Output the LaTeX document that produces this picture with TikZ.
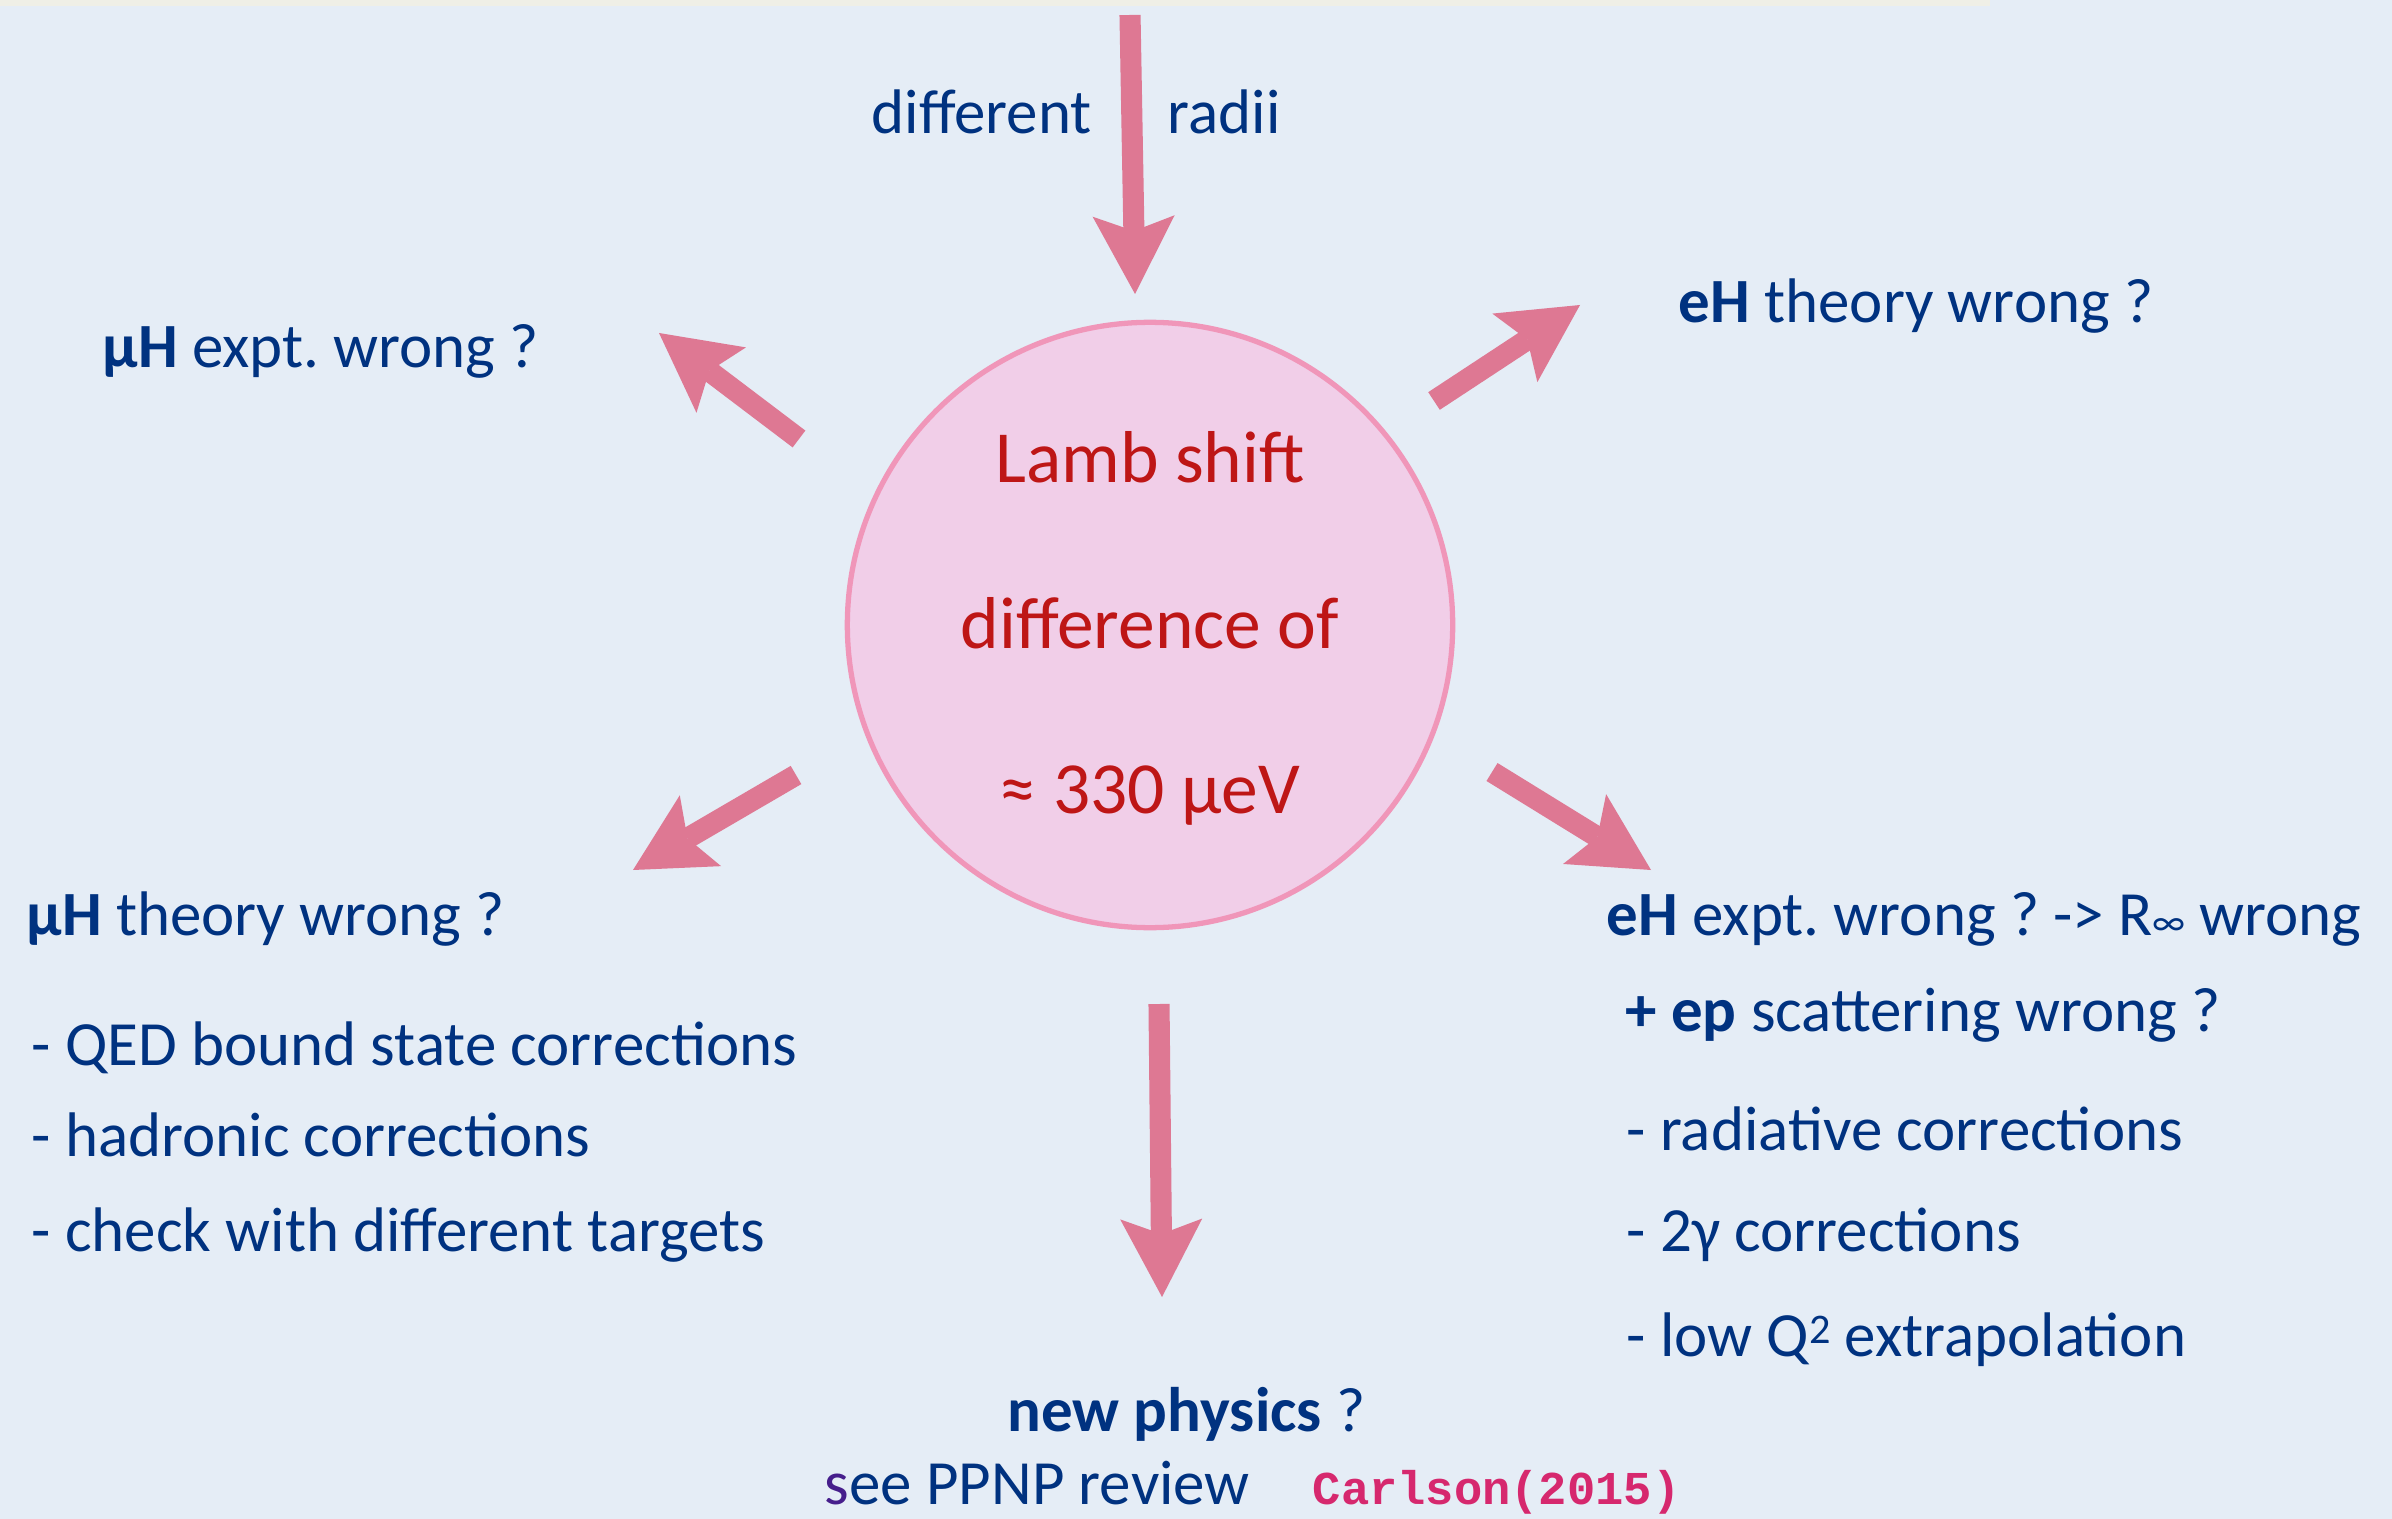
\documentclass[tikz,border=0pt]{standalone}
\usepackage{fontspec}
\setmainfont{Carlito}
\setmonofont{Liberation Mono}
\usetikzlibrary{arrows.meta}
\frenchspacing
\definecolor{bg}{RGB}{229,237,246}
\definecolor{cream}{RGB}{239,239,230}
\definecolor{navy}{RGB}{0,50,128}
\definecolor{redtxt}{RGB}{190,22,22}
\definecolor{circf}{RGB}{241,206,232}
\definecolor{circb}{RGB}{240,150,185}
\definecolor{arrowc}{RGB}{222,120,147}
\definecolor{carl}{RGB}{214,40,110}
\definecolor{purp}{RGB}{70,30,140}
\begin{document}
\begin{tikzpicture}[x=0.01cm,y=-0.01cm,
  txt/.style={anchor=base west, inner sep=0, text=navy, font=\fontsize{17.9}{21}\selectfont},
  redt/.style={anchor=base, inner sep=0, text=redtxt, font=\fontsize{20.9}{24}\selectfont},
  pinkarrow/.style={draw=arrowc, line width=6pt, -{Stealth[length=7.8mm,width=8.2mm,inset=1.5mm,line width=0pt]}},
]
\fill[bg] (0,0) rectangle (2392,1519);
\fill[cream] (0,0) rectangle (1990,6);
\useasboundingbox (0,0) rectangle (2392,1519);

% central circle
\node (c) [circle, draw=circb, fill=circf, line width=1.5pt, minimum size=6.05cm, inner sep=0] at (1150,625) {};
\node (l1) [redt] at (1150,482) {Lamb shift};
\node (l2) [redt] at (1150,648) {difference of};
\node (l3) [redt] at (1150,813) {≈ 330 μeV};

% arrow end points
\coordinate (tT) at (1130,15);   \coordinate (hT) at (1135,294);
\coordinate (tUL) at (799,439);  \coordinate (hUL) at (659,333);
\coordinate (tUR) at (1434,401); \coordinate (hUR) at (1580,305);
\coordinate (tLL) at (796,775);  \coordinate (hLL) at (633,870);
\coordinate (tLR) at (1492,772); \coordinate (hLR) at (1651,870);
\coordinate (tB) at (1159,1004); \coordinate (hB) at (1162,1297);

\draw[pinkarrow] (tT) -- (hT);
\draw[pinkarrow] (tUL) -- (hUL);
\draw[pinkarrow] (tUR) -- (hUR);
\draw[pinkarrow] (tLL) -- (hLL);
\draw[pinkarrow] (tLR) -- (hLR);
\draw[pinkarrow] (tB) -- (hB);

% texts
\node (dif) [txt] at (871,134) {different};
\node (rad) [txt] at (1167,134) {radii};
\node (mex) [txt] at (102,368) {\textbf{μH} expt. wrong ?};
\node (eth) [txt] at (1678,323) {\textbf{eH} theory wrong ?};
\node (mth) [txt] at (26,935) {\textbf{μH} theory wrong ?};
\node (m1) [txt] at (31,1065) {- QED bound state corrections};
\node (m2) [txt] at (31,1156) {- hadronic corrections};
\node (m3) [txt] at (31,1251) {- check with different targets};
\node (eex) [txt] at (1606,935) {\textbf{eH} expt. wrong ? -> R{\fontsize{11}{12}\selectfont ∞} wrong};
\node (ep) [txt] at (1625,1031) {\textbf{+ ep} scattering wrong ?};
\node (e1) [txt] at (1626,1150) {- radiative corrections};
\node (e2) [txt] at (1626,1251) {- 2γ corrections};
\node (e3) [txt] at (1626,1356) {- low Q\raisebox{3.6pt}{\fontsize{12}{13}\selectfont 2} extrapolation};
\node (np) [txt] at (1007,1431) {\textbf{new physics} ?};
\node (see) [txt] at (824,1504) {\textcolor{purp}{s}ee PPNP review};
\node (carl) [anchor=base west, inner sep=0, text=carl, font=\fontsize{13.4}{15}\ttfamily\bfseries] at (1312,1504) {Carlson(2015)};
\end{tikzpicture}
\end{document}
